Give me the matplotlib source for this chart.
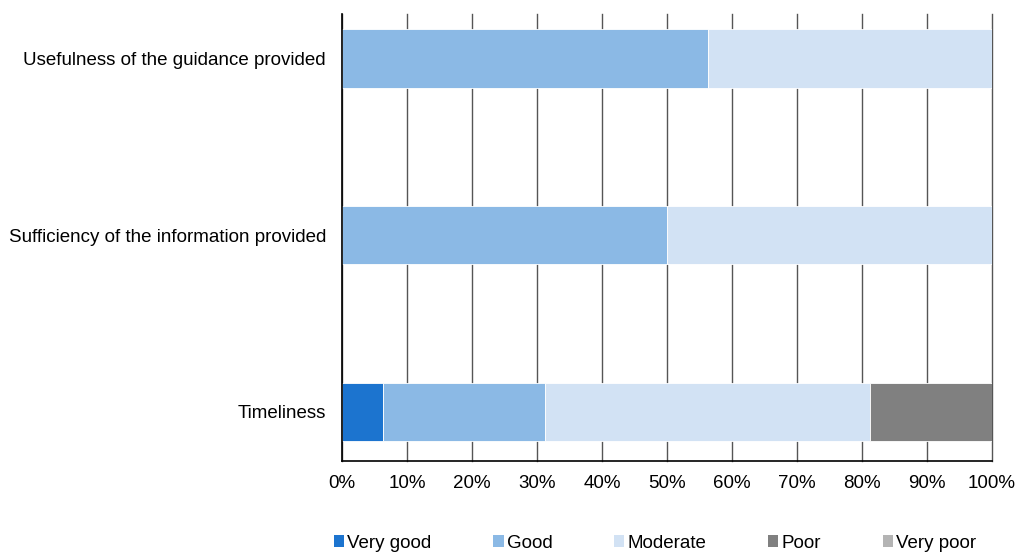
import matplotlib
matplotlib.use("Agg")
import matplotlib.pyplot as plt
from matplotlib.patches import Patch
from matplotlib.ticker import PercentFormatter

plt.rcParams["font.family"] = ["Liberation Sans", "DejaVu Sans"]

# Survey questions, bottom to top
questions = [
    "Timeliness",
    "Sufficiency of the information provided",
    "Usefulness of the guidance provided",
]
ratings = ["Very good", "Good", "Moderate", "Poor", "Very poor"]
colors = ["#1c74cf", "#8bb9e5", "#d2e2f4", "#808080", "#b4b4b4"]

# Share of answers (%) per rating, one list per question
very_good = [6.25, 0.0, 0.0]
good = [25.0, 50.0, 56.25]
moderate = [50.0, 50.0, 43.75]
poor = [18.75, 0.0, 0.0]
very_poor = [0.0, 0.0, 0.0]
shares = [very_good, good, moderate, poor, very_poor]

fig = plt.figure(figsize=(10.18, 5.53), dpi=100)
ax = fig.add_axes([0.336, 0.1664, 0.6385, 0.8083])

ypos = range(len(questions))
left = [0.0] * len(questions)
for vals, col in zip(shares, colors):
    ax.barh(ypos, vals, left=left, height=0.333, color=col,
            edgecolor="white", linewidth=0.6, zorder=3)
    left = [a + b for a, b in zip(left, vals)]

ax.set_xlim(0, 100)
ax.set_ylim(-0.277, 2.249)
ax.set_xticks(range(0, 101, 10))
ax.xaxis.set_major_formatter(PercentFormatter(decimals=0))
ax.set_yticks(list(ypos))
ax.set_yticklabels(questions)
ax.tick_params(axis="both", length=0, labelsize=13.5)
ax.tick_params(axis="x", pad=10)
ax.tick_params(axis="y", pad=11.5)
ax.grid(axis="x", color="#555555", linewidth=1.0, zorder=0)
# keep the 100% gridline from being cut in half at the axes edge
for gl in ax.get_xgridlines():
    gl.set_clip_on(False)

for side in ["top", "right"]:
    ax.spines[side].set_visible(False)
for side in ["left", "bottom"]:
    ax.spines[side].set_color("black")
    ax.spines[side].set_linewidth(1.2)
    ax.spines[side].set_zorder(4)

handles = [Patch(facecolor=c, edgecolor="none") for c in colors]
fig.legend(handles, ratings, loc="center", ncol=5, frameon=False,
           fontsize=13.5, bbox_to_anchor=(0.6434, 0.018), handlelength=0.55,
           handleheight=0.55, handletextpad=0.15, columnspacing=3.3)

fig.savefig("out.png", dpi=100)
